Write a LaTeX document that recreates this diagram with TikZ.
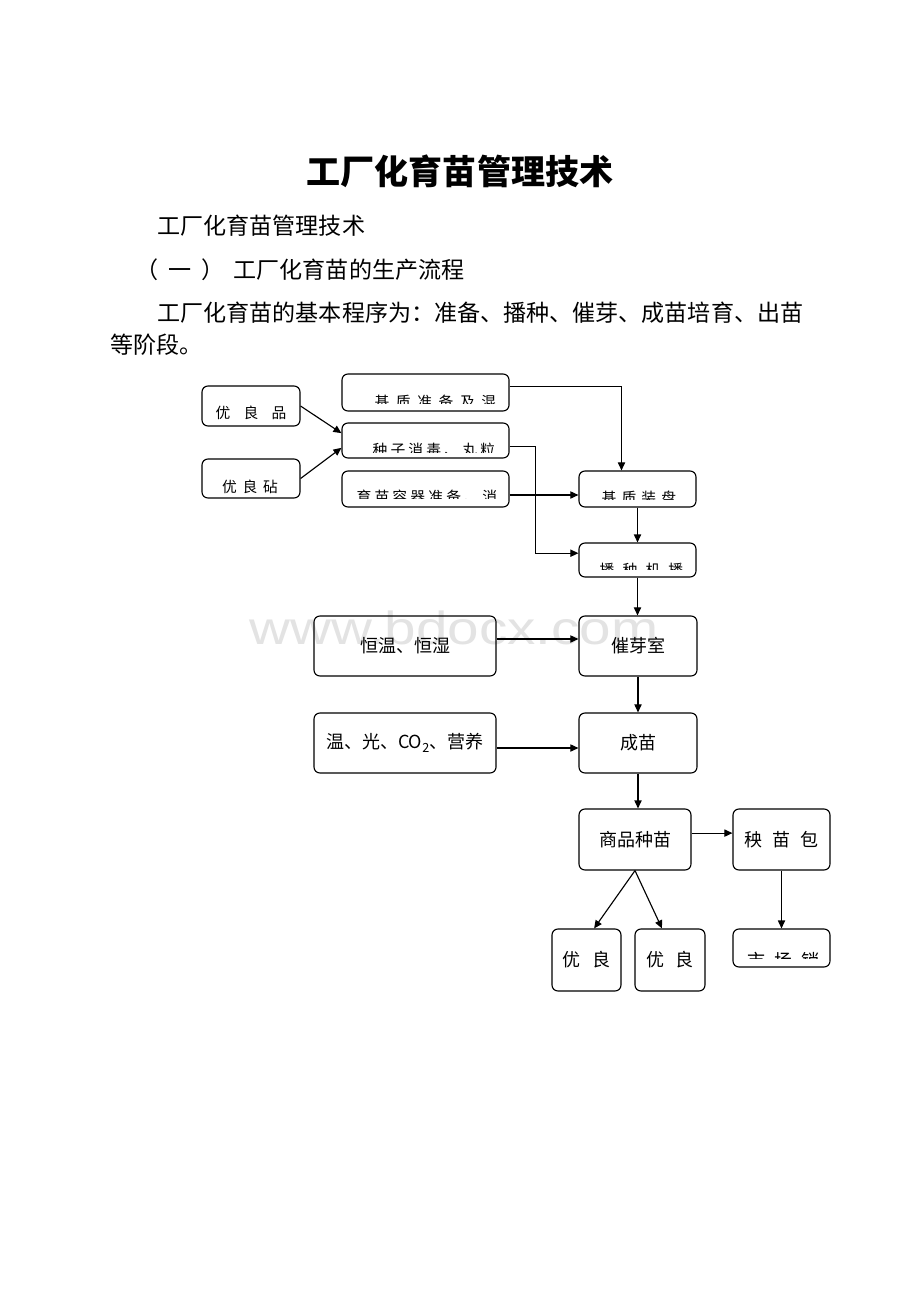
\documentclass[tikz,border=0pt]{standalone}
\usepackage{fontspec}
\setmainfont{Noto Sans CJK SC}
\newfontfamily\wmfont{Liberation Sans}
\usetikzlibrary{arrows.meta}
\makeatletter
\newcommand{\spreadtxt}[2]{\@tfor\spch:=#2\do{\spch\hspace{#1}}\unskip}
\makeatother

\begin{document}
\begin{tikzpicture}[x=0.025cm, y=-0.025cm, thick, >={Triangle[length=2mm,width=1.8mm]},
  main/.style = {draw, rounded corners=1.5mm, inner sep=0pt, font=\fontsize{12.8}{14}\selectfont},
  small/.style = {draw, rounded corners=1.5mm, inner sep=0pt},
  txt/.style = {inner sep=0pt, font=\fontsize{10.5}{12}\selectfont},
  body/.style = {inner sep=0pt, anchor=west, font=\fontsize{16.4}{19}\selectfont}]
\fill[white] (0,0) rectangle (920,1302);
\useasboundingbox (0,0) rectangle (920,1302);
% watermark
\node[text=black!11, font=\fontsize{33}{33}\selectfont\wmfont, xscale=1.22, inner sep=0pt] (wm) at (454,628) {www.bdocx.com};
% heading and text
\node[inner sep=0pt, font=\fontsize{24.2}{28}\selectfont\bfseries] (title) at (460,171) {工厂化育苗管理技术};
\node[body] (l1) at (157,226) {工厂化育苗管理技术};
\node[body] (l2) at (135,270) {（\hspace{0.25cm}一\hspace{0.25cm}）\hspace{0.225cm}工厂化育苗的生产流程};
\node[body] (l3) at (157,313) {工厂化育苗的基本程序为：准备、播种、催芽、成苗培育、出苗};
\node[body] (l4) at (110,345) {等阶段。};
% small boxes
\node[small, minimum width=2.45cm, minimum height=1cm] (0) at (251,406) {};
\node[txt] (t0) at (251,413) {\spreadtxt{0.33cm}{优良品}};
\node[small, minimum width=2.45cm, minimum height=0.975cm] (1) at (251,478.5) {};
\node[txt] (t1) at (250,487) {\spreadtxt{0.145cm}{优良砧}};
\node[small, minimum width=4.175cm, minimum height=0.925cm] (2) at (425.5,392.5) {};
\node[small, minimum width=4.175cm, minimum height=0.875cm] (3) at (425.5,440.5) {};
\node[small, minimum width=4.175cm, minimum height=0.9cm] (4) at (425.5,489) {};
\node[small, minimum width=2.925cm, minimum height=0.9cm] (5) at (637.5,489) {};
\node[small, minimum width=2.925cm, minimum height=0.85cm] (6) at (637.5,560) {};
% cut-off labels
\begin{scope}
\clip (342,374) rectangle (509,403);
\node[txt, anchor=north west] (t2) at (374,394) {\spreadtxt{0.165cm}{基质准备及混}};
\end{scope}
\begin{scope}
\clip (342,423) rectangle (509,452);
\node[txt, anchor=north west] (t3) at (372,442) {\spreadtxt{0.08cm}{种子消毒、丸粒}};
\end{scope}
\begin{scope}
\clip (342,471) rectangle (509,498);
\node[txt, anchor=north west] (t4) at (356,489) {\spreadtxt{0.08cm}{育苗容器准备、消}};
\end{scope}
\begin{scope}
\clip (579,471) rectangle (696,499);
\node[txt, anchor=north west] (t5) at (601,490) {\spreadtxt{0.13cm}{基质装盘}};
\end{scope}
\begin{scope}
\clip (579,543) rectangle (696,569);
\node[txt, anchor=north west] (t6) at (599,563) {\spreadtxt{0.205cm}{播种机播}};
\end{scope}
% large boxes
\node[main, minimum width=4.55cm, minimum height=1.5cm] (7) at (405,646) {恒温、恒湿};
\node[main, minimum width=2.95cm, minimum height=1.5cm] (8) at (638,646) {催芽室};
\node[main, minimum width=4.55cm, minimum height=1.5cm] (9) at (405,743) {温、光、CO\textsubscript{2}、营养};
\node[main, minimum width=2.95cm, minimum height=1.5cm] (10) at (638,743) {成苗};
\node[main, minimum width=2.8cm, minimum height=1.525cm] (11) at (635,839.5) {商品种苗};
\node[main, minimum width=2.425cm, minimum height=1.525cm] (12) at (781.5,839.5) {\spreadtxt{0.25cm}{秧苗包}};
\node[main, minimum width=1.725cm, minimum height=1.55cm] (13) at (586.5,960) {\spreadtxt{0.3cm}{优良}};
\node[main, minimum width=1.75cm, minimum height=1.55cm] (14) at (670,960) {\spreadtxt{0.3cm}{优良}};
\node[main, minimum width=2.425cm, minimum height=0.95cm] (15) at (781.5,948) {};
\begin{scope}
\clip (733,929) rectangle (830,958);
\node[inner sep=0pt, anchor=north west, font=\fontsize{12.8}{14}\selectfont] (t15) at (747,952) {\spreadtxt{0.22cm}{市场销}};
\end{scope}
% arrows
\draw[->] (0.east) -- (3.175);
\draw[->] (1.east) -- (3.185);
\draw[->] ([yshift=0.14cm]2.east) -| ([xshift=-0.4cm]5.north);
\draw[->] ([yshift=-0.16cm]3.east) -- ++(26,0) |- ([yshift=0.17cm]6.west);
\draw[->] ([yshift=-0.15cm]4.east) -- ([yshift=-0.15cm]5.west);
\draw[->] (5) -- (6);
\draw[->] (6) -- (6 |- 8.north);
\draw[->] ([yshift=0.175cm]7.east) -- ([yshift=0.175cm]8.west);
\draw[->] (8) -- (10);
\draw[->] ([yshift=-0.125cm]9.east) -- ([yshift=-0.125cm]10.west);
\draw[->] (10) -- (10 |- 11.north);
\draw[->] ([yshift=0.16cm]11.east) -- ([yshift=0.16cm]12.west);
\draw[->] (11.south) -- ([xshift=0.19cm]13.north);
\draw[->] (11.south) -- ([xshift=-0.2cm]14.north);
\draw[->] (12) -- (15);
\end{tikzpicture}
\end{document}
